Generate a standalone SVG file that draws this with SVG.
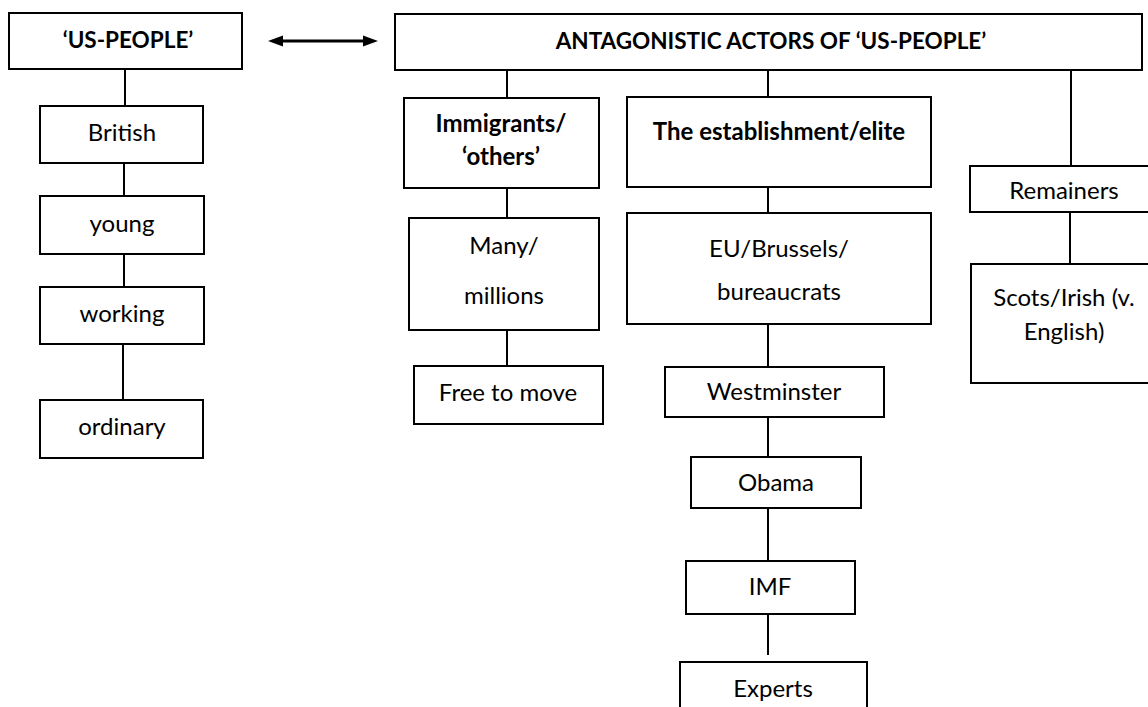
<svg xmlns="http://www.w3.org/2000/svg" width="1148" height="707" viewBox="0 0 1148 707">
<style>
.box{fill:#fff;stroke:#000;stroke-width:2}
.ln{stroke:#000;stroke-width:2;fill:none}
text{font-family:Lato,"Liberation Sans",Arial,sans-serif;fill:#000;text-anchor:middle}
.b{font-weight:bold;font-size:24px}
.c{font-weight:bold;font-size:22.5px}
.r{font-size:24px}
</style>
<rect width="1148" height="707" fill="#fff"/>
<g id="connectors">
<line class="ln" x1="125" y1="69" x2="125" y2="106"/>
<line class="ln" x1="124" y1="163" x2="124" y2="196"/>
<line class="ln" x1="124" y1="254" x2="124" y2="287"/>
<line class="ln" x1="123" y1="344" x2="123" y2="400"/>
<line class="ln" x1="507" y1="70" x2="507" y2="98"/>
<line class="ln" x1="768" y1="70" x2="768" y2="97"/>
<line class="ln" x1="1071" y1="70" x2="1071" y2="166"/>
<line class="ln" x1="507" y1="188" x2="507" y2="218"/>
<line class="ln" x1="507" y1="330" x2="507" y2="366"/>
<line class="ln" x1="768" y1="187" x2="768" y2="213"/>
<line class="ln" x1="768" y1="324" x2="768" y2="367"/>
<line class="ln" x1="768" y1="417" x2="768" y2="457"/>
<line class="ln" x1="768" y1="508" x2="768" y2="561"/>
<line class="ln" x1="768" y1="614" x2="768" y2="655"/>
<line class="ln" x1="1070" y1="212" x2="1070" y2="264"/>
<g id="double-arrow">
<line x1="280" y1="41" x2="366" y2="41" stroke="#000" stroke-width="3"/>
<polygon points="268,41 283,35.5 283,46.5" fill="#000"/>
<polygon points="378,41 363,35.5 363,46.5" fill="#000"/>
</g>
</g>
<g id="us-people"><rect class="box" x="9" y="13" width="233" height="56"/><text class="c" x="128" y="48">‘US-PEOPLE’</text></g>
<g id="british"><rect class="box" x="40" y="106" width="163" height="57"/><text class="r" x="122" y="141">British</text></g>
<g id="young"><rect class="box" x="40" y="196" width="164" height="58"/><text class="r" x="122" y="232">young</text></g>
<g id="working"><rect class="box" x="40" y="287" width="164" height="57"/><text class="r" x="122" y="322">working</text></g>
<g id="ordinary"><rect class="box" x="40" y="400" width="163" height="58"/><text class="r" x="122" y="435">ordinary</text></g>
<g id="antagonistic"><rect class="box" x="395" y="14" width="747" height="56"/><text class="c" x="771" y="49">ANTAGONISTIC ACTORS OF ‘US-PEOPLE’</text></g>
<g id="immigrants"><rect class="box" x="404" y="98" width="195" height="90"/><text class="b" x="501" y="132">Immigrants/</text><text class="b" x="501" y="165">‘others’</text></g>
<g id="many"><rect class="box" x="409" y="218" width="190" height="112"/><text class="r" x="504" y="254">Many/</text><text class="r" x="504" y="304">millions</text></g>
<g id="free"><rect class="box" x="414" y="366" width="189" height="58"/><text class="r" x="508" y="401">Free to move</text></g>
<g id="establishment"><rect class="box" x="627" y="97" width="304" height="90"/><text class="b" x="779" y="140">The establishment/elite</text></g>
<g id="eu"><rect class="box" x="627" y="213" width="304" height="111"/><text class="r" x="779" y="257">EU/Brussels/</text><text class="r" x="779" y="300">bureaucrats</text></g>
<g id="westminster"><rect class="box" x="665" y="367" width="219" height="50"/><text class="r" x="774" y="400">Westminster</text></g>
<g id="obama"><rect class="box" x="691" y="457" width="170" height="51"/><text class="r" x="776" y="491">Obama</text></g>
<g id="imf"><rect class="box" x="686" y="561" width="169" height="53"/><text class="r" x="770" y="595">IMF</text></g>
<g id="experts"><rect class="box" x="680" y="662" width="187" height="60"/><text class="r" x="773" y="697">Experts</text></g>
<g id="remainers"><rect class="box" x="970" y="166" width="200" height="46"/><text class="r" x="1064" y="199">Remainers</text></g>
<g id="scots"><rect class="box" x="971" y="264" width="200" height="119"/><text class="r" x="1064" y="306">Scots/Irish (v.</text><text class="r" x="1064" y="340">English)</text></g>
</svg>
